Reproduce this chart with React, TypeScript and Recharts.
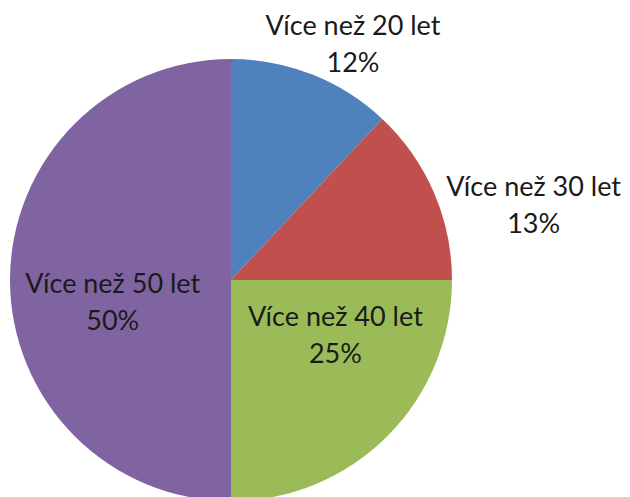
import React from 'react';
import { PieChart, Pie, Cell } from 'recharts';

const categories = ['Více než 20 let', 'Více než 30 let', 'Více než 40 let', 'Více než 50 let'];
const shares = [12, 13, 25, 50];
const colors = ['#4F81BD', '#C0504D', '#9BBB59', '#8064A2'];

// label placement: distance from centre (as multiple of radius) and angle in degrees
const labelPos: Record<string, { r: number; a: number }> = {
    'Více než 20 let': { r: 1.2, a: 62.6 },
    'Více než 30 let': { r: 1.41, a: 13.8 },
    'Více než 40 let': { r: 0.535, a: -28 },
    'Více než 50 let': { r: 0.545, a: -169 },
};

const data = categories.map((name, i) => ({ name, value: shares[i] }));

const RAD = Math.PI / 180;

const renderLabel = (props: any) => {
    const { cx, cy, outerRadius, name, percent } = props;
    const p = labelPos[name];
    const x = cx + outerRadius * p.r * Math.cos(p.a * RAD);
    const y = cy - outerRadius * p.r * Math.sin(p.a * RAD);
    return (
        <text x={x} y={y} textAnchor="middle" fill="#1a1a1a" fontFamily="Lato" fontSize={27}>
            <tspan x={x} dy={-10}>{name}</tspan>
            <tspan x={x} dy={37}>{`${Math.round(percent * 100)}%`}</tspan>
        </text>
    );
};

const App: React.FC = () => (
    <div style={{ position: 'absolute', left: 0, top: 0, width: 630, height: 497, background: '#fff' }}>
        <PieChart width={630} height={497}>
            <Pie
                data={data}
                dataKey="value"
                nameKey="name"
                cx={226}
                cy={275}
                outerRadius={221}
                startAngle={90}
                endAngle={-270}
                stroke="none"
                label={renderLabel}
                labelLine={false}
                isAnimationActive={false}
            >
                {data.map((d, i) => (
                    <Cell key={d.name} fill={colors[i]} />
                ))}
            </Pie>
        </PieChart>
    </div>
);

export default App;
